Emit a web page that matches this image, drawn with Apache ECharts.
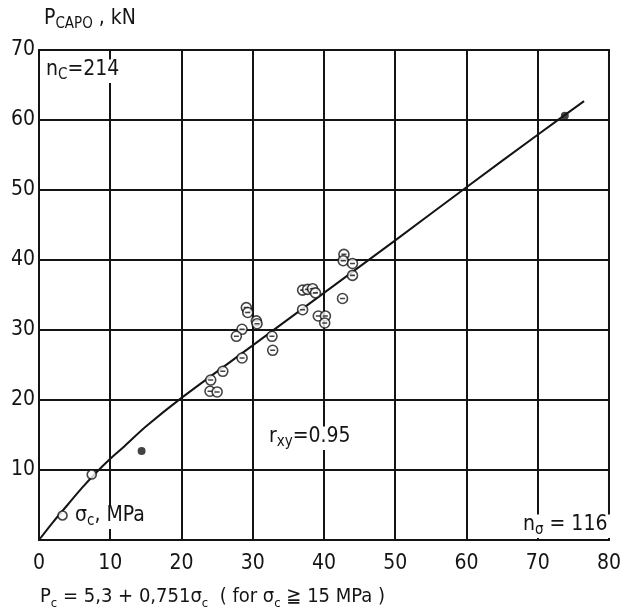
<!DOCTYPE html>
<html>
<head>
<meta charset="utf-8">
<script src="https://cdn.jsdelivr.net/npm/echarts@6/dist/echarts.min.js"></script>
<style>
  html, body { margin: 0; background: #fff; }
  #chart { width: 624px; height: 615px; }
</style>
</head>
<body>
<div id="chart"></div>
<script>
// measured points (sigma_c MPa, P kN), open circles with a bar
const ringPoints = [
  [42.8, 40.8], [42.7, 39.9], [44.0, 39.5], [44.0, 37.8], [42.6, 34.5],
  [37.0, 35.7], [37.7, 35.8], [38.4, 35.9], [38.8, 35.3], [37.0, 32.9],
  [39.2, 32.0], [40.2, 32.0], [40.1, 31.0], [29.1, 33.2], [29.3, 32.5],
  [30.5, 31.3], [30.6, 30.9], [28.5, 30.1], [27.7, 29.1], [32.7, 29.1],
  [32.8, 27.1], [28.5, 26.0], [25.8, 24.1], [24.1, 22.85], [24.0, 21.25],
  [25.0, 21.15]
];
const openPoints = [[7.4, 9.35], [3.3, 3.5]];
const solidPoints = [[14.4, 12.7], [73.8, 60.6]];

// regression curve
const fitCurve = [
  [0, 0], [2, 2.6], [4, 5.0], [6, 7.4], [8, 9.6], [10, 11.6], [12, 13.4],
  [15, 16.2], [20, 20.3], [30, 27.8], [40, 35.3], [50, 42.8], [60, 50.4],
  [70, 57.9], [76.5, 62.7]
];

const FONT = "DejaVu Sans Condensed";
const INK = "#141414";

const chart = echarts.init(document.getElementById("chart"));

const txt = { fontFamily: FONT, fontSize: 21, fontWeight: "normal", color: INK, lineHeight: 26, verticalAlign: "middle" };
const sub = { fontFamily: FONT, fontSize: 15, fontWeight: "normal", color: INK, lineHeight: 13, verticalAlign: "bottom" };

function label(left, top, text, bg) {
  return {
    left: left,
    top: top,
    text: text,
    padding: bg ? [0, 3, 0, 3] : 0,
    backgroundColor: bg ? "#fff" : "transparent",
    textStyle: { fontWeight: "normal", rich: { t: txt, s: sub } }
  };
}

const option = {
  backgroundColor: "#fff",
  animation: false,
  title: [
    label(44, 6, "{t|P}{s|CAPO}{t| , kN}"),
    label(43, 57, "{t|n}{s|C}{t|=214}", true),
    label(266, 424, "{t|r}{s|xy}{t|=0.95}", true),
    label(72, 503, "{t|σ}{s|c}{t|, MPa}", true),
    label(520, 512, "{t|n}{s|σ}{t| = 116}", true),
    {
      left: 40,
      top: 584,
      text: "{t|P}{s|c}{t| = 5,3 + 0,751σ}{s|c}{t|  ( for σ}{s|c}{t| ≧ 15 MPa )}",
      padding: 0,
      textStyle: {
        fontWeight: "normal",
        rich: {
          t: Object.assign({}, txt, { fontSize: 20 }),
          s: Object.assign({}, sub, { fontSize: 13, lineHeight: 12 })
        }
      }
    }
  ],
  grid: {
    left: 39,
    right: 13,
    top: 50,
    bottom: 75,
    show: true,
    borderColor: INK,
    borderWidth: 2
  },
  xAxis: {
    type: "value",
    min: 0,
    max: 80,
    interval: 10,
    axisLine: { show: true, lineStyle: { color: INK, width: 2 } },
    axisTick: { show: false },
    splitLine: { show: true, lineStyle: { color: INK, width: 2 } },
    axisLabel: { fontFamily: FONT, fontSize: 21, color: INK, margin: 13 }
  },
  yAxis: {
    type: "value",
    min: 0,
    max: 70,
    interval: 10,
    axisLine: { show: true, lineStyle: { color: INK, width: 2 } },
    axisTick: { show: false },
    splitLine: { show: true, lineStyle: { color: INK, width: 2 } },
    axisLabel: {
      fontFamily: FONT, fontSize: 21, color: INK, margin: 4,
      formatter: v => (v === 0 ? "" : v)
    }
  },
  series: [
    {
      type: "line",
      data: fitCurve,
      showSymbol: false,
      smooth: 0.3,
      lineStyle: { color: INK, width: 2 },
      z: 2
    },
    {
      type: "scatter",
      data: ringPoints,
      symbol: "path://M0,5 A5,5 0 1,1 10,5 A5,5 0 1,1 0,5 Z M2.5,5 L7.5,5",
      symbolSize: 10,
      itemStyle: { color: "#fff", borderColor: INK, borderWidth: 1.6 },
      z: 3
    },
    {
      type: "scatter",
      data: openPoints,
      symbol: "circle",
      symbolSize: 9,
      itemStyle: { color: "#fff", borderColor: INK, borderWidth: 1.6 },
      z: 3
    },
    {
      type: "scatter",
      data: solidPoints,
      symbol: "circle",
      symbolSize: 8,
      itemStyle: { color: INK },
      z: 3
    }
  ]
};

chart.setOption(option);
</script>
</body>
</html>
